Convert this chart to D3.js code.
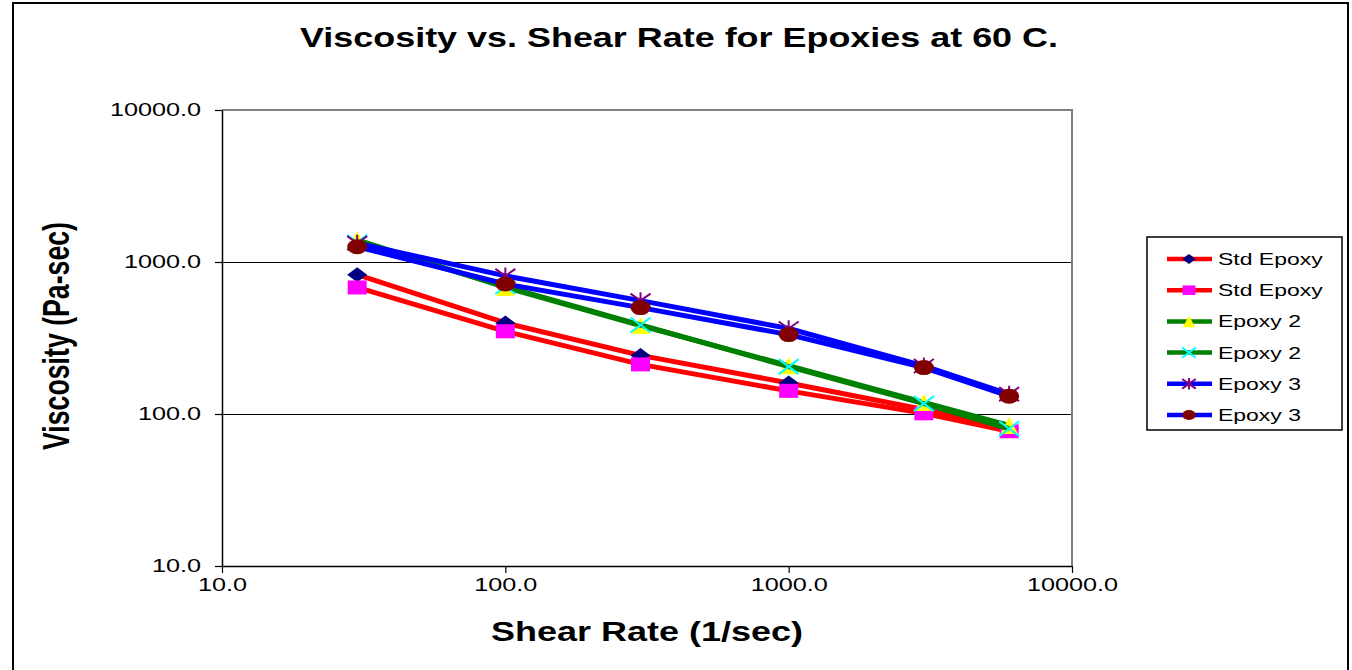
<!DOCTYPE html>
<html>
<head>
<meta charset="utf-8">
<script src="https://cdn.jsdelivr.net/npm/d3@7"></script>
<style>
  body { margin: 0; background: #fff; }
  svg { display: block; font-family: "Liberation Sans", Arial, sans-serif; }
</style>
</head>
<body>
<div id="chart"></div>
<script>
// chart data
var shearRate = [30, 100, 300, 1000, 3000, 6000];
var stdEpoxyA = [825, 397, 243, 160, 107, 80];
var stdEpoxyB = [680, 350, 212, 142, 101, 77];
var epoxy2A   = [1400, 680, 382, 208, 119, 84];
var epoxy2B   = [1350, 690, 385, 205, 117, 80];
var epoxy3A   = [1330, 810, 557, 365, 207, 135];
var epoxy3B   = [1260, 717, 501, 333, 202, 131];
var seriesNames = ["Std Epoxy", "Std Epoxy", "Epoxy 2", "Epoxy 2", "Epoxy 3", "Epoxy 3"];
var xTicks = [10, 100, 1000, 10000];
var yTicks = [10, 100, 1000, 10000];

var series = [
  { name: seriesNames[0], values: stdEpoxyA, line: "#ff0000", marker: "diamond" },
  { name: seriesNames[1], values: stdEpoxyB, line: "#ff0000", marker: "square" },
  { name: seriesNames[2], values: epoxy2A,   line: "#008000", marker: "triangle" },
  { name: seriesNames[3], values: epoxy2B,   line: "#008000", marker: "cross" },
  { name: seriesNames[4], values: epoxy3A,   line: "#0000ff", marker: "star" },
  { name: seriesNames[5], values: epoxy3B,   line: "#0000ff", marker: "circle" }
];

var W = 1352, H = 670;
var plot = { left: 222, right: 1072, top: 110, bottom: 566 };
var stretch = 1.4; // text in the picture is drawn wide

var svg = d3.select("#chart").append("svg")
            .attr("width", W)
            .attr("height", H);

// outer frame
svg.append("rect")
   .attr("x", 13).attr("y", 3)
   .attr("width", 1335).attr("height", H + 10)
   .attr("fill", "none")
   .attr("stroke", "#000")
   .attr("stroke-width", 2);

var x = d3.scaleLog().domain([10, 10000]).range([plot.left, plot.right]);
var y = d3.scaleLog().domain([10, 10000]).range([plot.bottom, plot.top]);

// widen a text element horizontally
function widen(sel, factor) {
  sel.each(function() {
    var len = this.getComputedTextLength();
    d3.select(this)
      .attr("textLength", len * factor)
      .attr("lengthAdjust", "spacingAndGlyphs");
  });
}

// gridlines
svg.append("g")
   .selectAll("line")
   .data([100, 1000])
   .enter().append("line")
   .attr("x1", plot.left).attr("x2", plot.right)
   .attr("y1", function(d) { return Math.round(y(d)) + 0.5; })
   .attr("y2", function(d) { return Math.round(y(d)) + 0.5; })
   .attr("stroke", "#000")
   .attr("stroke-width", 1)
   .attr("shape-rendering", "crispEdges");

// plot area top + right border (grey)
svg.append("path")
   .attr("d", "M" + plot.left + "," + plot.top + "H" + plot.right + "V" + plot.bottom)
   .attr("fill", "none")
   .attr("stroke", "#808080")
   .attr("stroke-width", 2);

// axes
var yAxis = svg.append("g")
               .attr("transform", "translate(" + plot.left + ",0)")
               .call(d3.axisLeft(y)
                 .tickValues(yTicks)
                 .tickFormat(d3.format(".1f"))
                 .tickSize(7)
                 .tickSizeOuter(0)
                 .tickPadding(14));

var xAxis = svg.append("g")
               .attr("transform", "translate(0," + plot.bottom + ")")
               .call(d3.axisBottom(x)
                 .tickValues(xTicks)
                 .tickFormat(d3.format(".1f"))
                 .tickSize(7)
                 .tickSizeOuter(0)
                 .tickPadding(5));

[xAxis, yAxis].forEach(function(ax) {
  ax.select(".domain").attr("stroke", "#000").attr("stroke-width", 1.5);
  ax.selectAll(".tick line").attr("stroke", "#000").attr("stroke-width", 1.2);
  ax.selectAll("text")
    .attr("font-family", "Liberation Sans, Arial, sans-serif")
    .attr("font-size", 18)
    .attr("fill", "#000")
    .call(widen, stretch);
});

// lines and markers
var line = d3.line()
             .x(function(d) { return x(d[0]); })
             .y(function(d) { return y(d[1]); });

function markerPath(type, w, h) {
  var a = w / 2, b = h / 2;
  switch (type) {
    case "diamond":
      return "M0," + (-b) + "L" + a + ",0L0," + b + "L" + (-a) + ",0Z";
    case "square":
      return "M" + (-a) + "," + (-b) + "H" + a + "V" + b + "H" + (-a) + "Z";
    case "triangle":
      return "M0," + (-b) + "L" + a + "," + b + "H" + (-a) + "Z";
    case "cross":
      return "M" + (-a) + "," + (-b) + "L" + a + "," + b + "M" + a + "," + (-b) + "L" + (-a) + "," + b;
    case "star":
      return "M" + (-a) + "," + (-b) + "L" + a + "," + b + "M" + a + "," + (-b) + "L" + (-a) + "," + b +
             "M0," + (-b * 1.2) + "V" + (b * 1.2);
  }
  return "";
}

var markerStyle = {
  diamond:  { fill: "#000080", stroke: "none" },
  square:   { fill: "#ff00ff", stroke: "none" },
  triangle: { fill: "#ffff00", stroke: "none" },
  cross:    { fill: "none", stroke: "#00ffff" },
  star:     { fill: "none", stroke: "#800080" },
  circle:   { fill: "#800000", stroke: "none" }
};

var markerSize = {
  diamond: [20, 15], square: [19, 14], triangle: [18, 17],
  cross: [20, 15], star: [20, 14], circle: [20, 15]
};

function drawMarker(g, type, cx, cy, k) {
  var w = markerSize[type][0] * k, h = markerSize[type][1] * k;
  var st = markerStyle[type];
  if (type == "circle") {
    g.append("ellipse")
     .attr("cx", cx).attr("cy", cy)
     .attr("rx", w / 2).attr("ry", h / 2)
     .attr("fill", st.fill);
  } else {
    g.append("path")
     .attr("transform", "translate(" + cx + "," + cy + ")")
     .attr("d", markerPath(type, w, h))
     .attr("fill", st.fill)
     .attr("stroke", st.stroke)
     .attr("stroke-width", 2);
  }
}

var plotG = svg.append("g");
series.forEach(function(s) {
  var pts = shearRate.map(function(r, i) { return [r, s.values[i]]; });
  plotG.append("path")
       .datum(pts)
       .attr("d", line)
       .attr("fill", "none")
       .attr("stroke", s.line)
       .attr("stroke-width", 5)
       .attr("stroke-linejoin", "round");
  pts.forEach(function(p) {
    drawMarker(plotG, s.marker, x(p[0]), y(p[1]), 1);
  });
});

// title
svg.append("text")
   .attr("x", 679).attr("y", 47)
   .attr("text-anchor", "middle")
   .attr("font-size", 28)
   .attr("font-weight", "bold")
   .attr("textLength", 758)
   .attr("lengthAdjust", "spacingAndGlyphs")
   .text("Viscosity vs. Shear Rate for Epoxies at 60 C.");

// axis titles
svg.append("text")
   .attr("x", 647).attr("y", 641)
   .attr("text-anchor", "middle")
   .attr("font-size", 27)
   .attr("font-weight", "bold")
   .attr("textLength", 312)
   .attr("lengthAdjust", "spacingAndGlyphs")
   .text("Shear Rate (1/sec)");

svg.append("text")
   .attr("transform", "translate(69,336) scale(1.4,1) rotate(-90)")
   .attr("text-anchor", "middle")
   .attr("font-size", 26)
   .attr("font-weight", "bold")
   .attr("textLength", 228)
   .attr("lengthAdjust", "spacingAndGlyphs")
   .text("Viscosity (Pa-sec)");

// legend
var legend = svg.append("g").attr("transform", "translate(1147,237)");
legend.append("rect")
      .attr("width", 195).attr("height", 193)
      .attr("fill", "#fff")
      .attr("stroke", "#000")
      .attr("stroke-width", 1.5);

var rows = legend.selectAll("g.row")
                 .data(series)
                 .enter().append("g")
                 .attr("class", "row")
                 .attr("transform", function(d, i) { return "translate(0," + (22 + i * 31.2) + ")"; });

rows.append("line")
    .attr("x1", 20).attr("x2", 65)
    .attr("stroke", function(d) { return d.line; })
    .attr("stroke-width", 4.5);

rows.each(function(d) {
  drawMarker(d3.select(this), d.marker, 42, 0, 0.68);
});

rows.append("text")
    .attr("x", 71).attr("y", 6)
    .attr("font-size", 17)
    .text(function(d) { return d.name; })
    .call(widen, 1.35);
</script>
</body>
</html>
